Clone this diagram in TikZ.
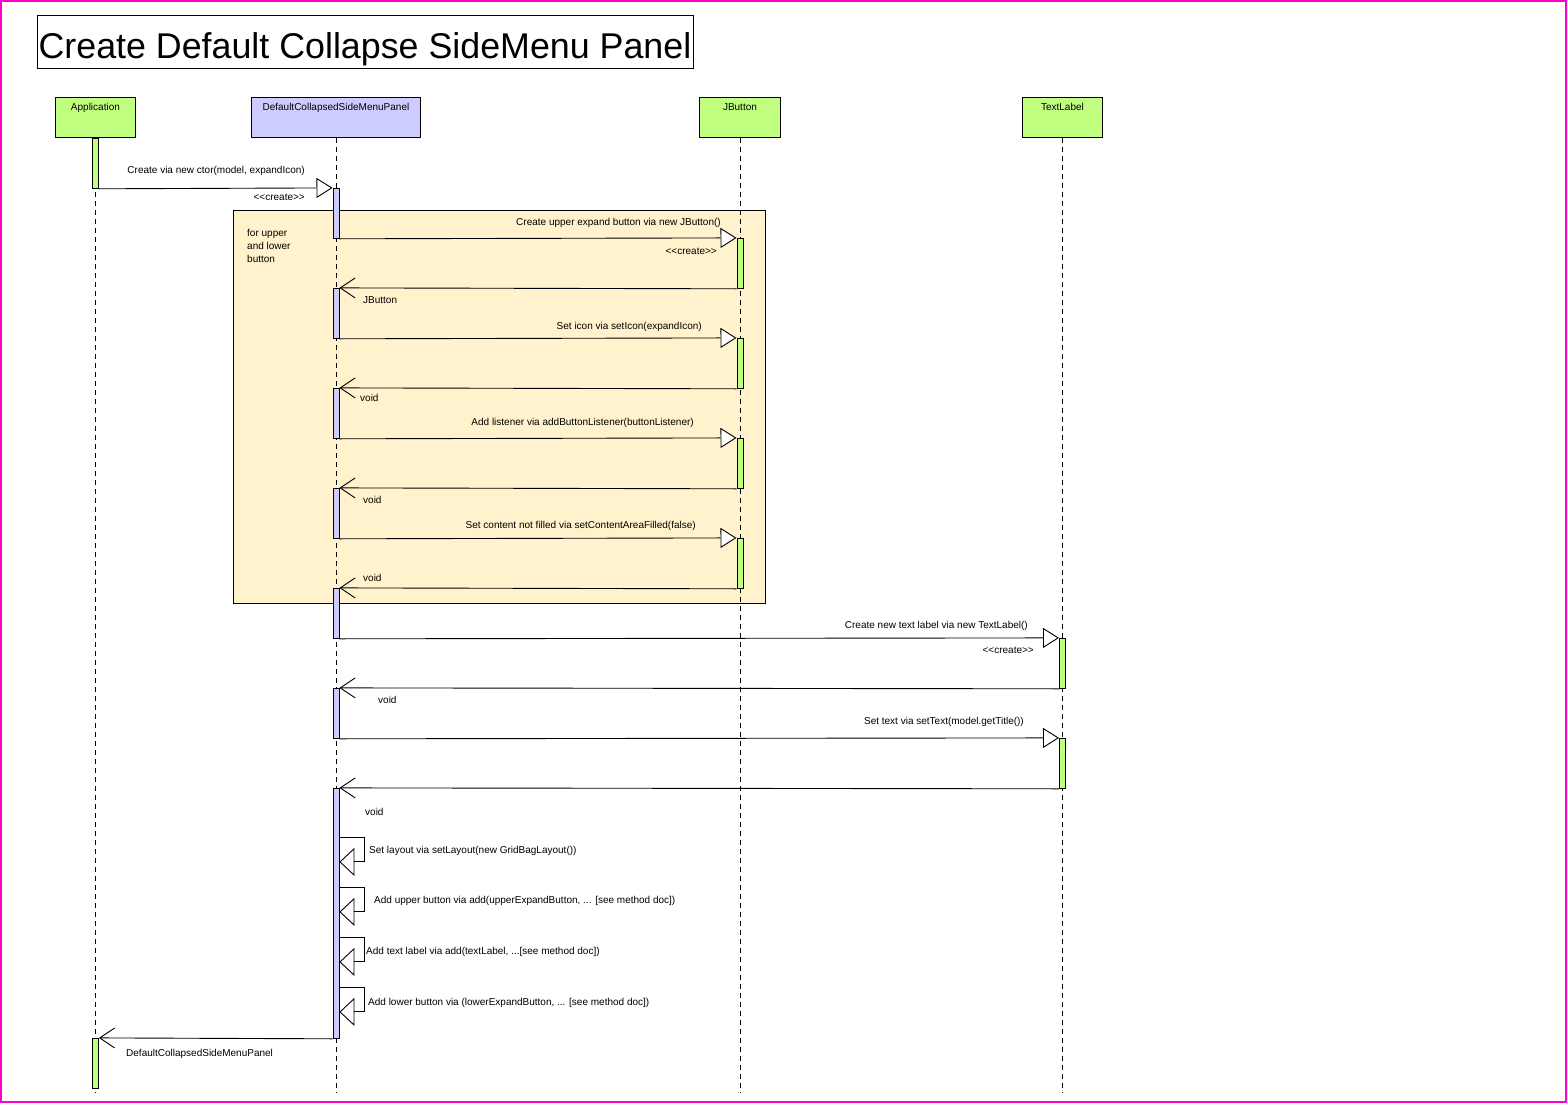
\documentclass[tikz,border=0pt]{standalone}
\usepackage{fontspec}
\setmainfont{Liberation Sans}
\usetikzlibrary{arrows.meta,calc}
\definecolor{lgreen}{RGB}{192,255,128}
\definecolor{lblue}{RGB}{204,204,255}
\definecolor{fragbeige}{RGB}{255,242,204}
\definecolor{bordermag}{RGB}{255,0,204}
\begin{document}
\begin{tikzpicture}[x=1pt,y=-1pt,
  lbl/.style={font=\fontsize{10}{12}\selectfont, inner sep=0pt},
  headbox/.style={draw, line width=0.9pt, minimum height=40pt, inner sep=0pt, anchor=north west},
  headlbl/.style={lbl, anchor=north, yshift=-6.5pt},
  lifeline/.style={draw, line width=0.9pt, dash pattern=on 5pt off 4pt},
  actbar/.style={draw, line width=0.9pt, minimum width=6pt, inner sep=0pt, anchor=north},
  callmsg/.style={draw, line width=0.9pt, -{Triangle[length=16pt,width=20pt,fill=white]}},
  selfmsg/.style={draw, line width=0.9pt, -{Triangle[length=15pt,width=28pt,fill=white]}},
  retmsg/.style={draw, line width=0.9pt, -{Straight Barb[length=15pt,width=20pt]}},
]
\useasboundingbox (0,0) rectangle (1567,1103);
\draw[bordermag, line width=1.6pt] (1,1) rectangle (1566,1102);

% title
\node[draw, line width=0.9pt, minimum width=656pt, minimum height=53pt, inner sep=0pt, anchor=north west] (titlebox) at (37,15) {};
\node[font=\fontsize{35.8}{40}\selectfont, inner sep=0pt, anchor=base] (titletext) at (365,58) {Create Default Collapse SideMenu Panel};

% combined fragment
\node[draw, fill=fragbeige, line width=0.9pt, minimum width=532pt, minimum height=393pt, anchor=north west, inner sep=0pt] (frag) at (233,210) {};
\node[lbl, align=left, anchor=north west, font=\fontsize{10}{13}\selectfont] (fraglbl) at (247,229) {for upper\\and lower\\button};

% heads
\node[headbox, fill=lgreen, minimum width=80pt, label={[headlbl]north:Application}] (app) at (55,97) {};
\node[headbox, fill=lblue, minimum width=169pt, label={[headlbl]north:DefaultCollapsedSideMenuPanel}] (dcs) at (251,97) {};
\node[headbox, fill=lgreen, minimum width=81pt, label={[headlbl]north:JButton}] (jb) at (699,97) {};
\node[headbox, fill=lgreen, minimum width=80pt, label={[headlbl]north:TextLabel}] (tl) at (1022,97) {};

% lifelines
\coordinate (appEnd) at ($(app.south)+(0,955)$);
\coordinate (dcsEnd) at ($(dcs.south)+(0,955)$);
\coordinate (jbEnd) at ($(jb.south)+(0,955)$);
\coordinate (tlEnd) at ($(tl.south)+(0,955)$);
\draw[lifeline] (app.south) -- (appEnd);
\draw[lifeline] (dcs.south) -- (dcsEnd);
\draw[lifeline] (jb.south) -- (jbEnd);
\draw[lifeline] (tl.south) -- (tlEnd);

% activation bars
\node[actbar, fill=lgreen, minimum height=50pt] (a1) at (app.south) {};
\node[actbar, fill=lgreen, minimum height=50pt] (a2) at ($(app.south)+(0,900)$) {};
\node[actbar, fill=lblue, minimum height=50pt] (b1) at ($(dcs.south)+(0,50)$) {};
\node[actbar, fill=lblue, minimum height=50pt] (b2) at ($(dcs.south)+(0,150)$) {};
\node[actbar, fill=lblue, minimum height=50pt] (b3) at ($(dcs.south)+(0,250)$) {};
\node[actbar, fill=lblue, minimum height=50pt] (b4) at ($(dcs.south)+(0,350)$) {};
\node[actbar, fill=lblue, minimum height=50pt] (b5) at ($(dcs.south)+(0,450)$) {};
\node[actbar, fill=lblue, minimum height=50pt] (b6) at ($(dcs.south)+(0,550)$) {};
\node[actbar, fill=lblue, minimum height=250pt] (b7) at ($(dcs.south)+(0,650)$) {};
\node[actbar, fill=lgreen, minimum height=50pt] (j1) at ($(jb.south)+(0,100)$) {};
\node[actbar, fill=lgreen, minimum height=50pt] (j2) at ($(jb.south)+(0,200)$) {};
\node[actbar, fill=lgreen, minimum height=50pt] (j3) at ($(jb.south)+(0,300)$) {};
\node[actbar, fill=lgreen, minimum height=50pt] (j4) at ($(jb.south)+(0,400)$) {};
\node[actbar, fill=lgreen, minimum height=50pt] (t1) at ($(tl.south)+(0,500)$) {};
\node[actbar, fill=lgreen, minimum height=50pt] (t2) at ($(tl.south)+(0,600)$) {};

% messages
\draw[callmsg] (a1.south east) -- (b1.north west);
\draw[callmsg] (b1.south east) -- (j1.north west);
\draw[retmsg] (j1.south west) -- (b2.north east);
\draw[callmsg] (b2.south east) -- (j2.north west);
\draw[retmsg] (j2.south west) -- (b3.north east);
\draw[callmsg] (b3.south east) -- (j3.north west);
\draw[retmsg] (j3.south west) -- (b4.north east);
\draw[callmsg] (b4.south east) -- (j4.north west);
\draw[retmsg] (j4.south west) -- (b5.north east);
\draw[callmsg] (b5.south east) -- (t1.north west);
\draw[retmsg] (t1.south west) -- (b6.north east);
\draw[callmsg] (b6.south east) -- (t2.north west);
\draw[retmsg] (t2.south west) -- (b7.north east);
\foreach \k in {50,100,150,200}
  \draw[selfmsg] ($(b7.north east)+(0,\k)$) -- ++(25,0) -- ++(0,24) -- ++(-25,0);
\draw[retmsg] (b7.south west) -- (a2.north east);

% labels
\node[lbl, anchor=base east] (l1) at (305,173) {Create via new ctor(model, expandIcon)};
\node[lbl, anchor=base east] (c1) at (305,200) {<\kern0pt<create>\kern0pt>};
\node[lbl, anchor=base east] (l2) at (721,225) {Create upper expand button via new JButton()};
\node[lbl, anchor=base east] (c2) at (717,254) {<\kern0pt<create>\kern0pt>};
\node[lbl, anchor=base west] (r1) at (363,303) {JButton};
\node[lbl, anchor=base east] (l4) at (702,329) {Set icon via setIcon(expandIcon)};
\node[lbl, anchor=base west] (r2) at (360,401) {void};
\node[lbl, anchor=base east] (l6) at (694,425) {Add listener via addButtonListener(buttonListener)};
\node[lbl, anchor=base west] (r3) at (363,503) {void};
\node[lbl, anchor=base east] (l8) at (696,528) {Set content not filled via setContentAreaFilled(false)};
\node[lbl, anchor=base west] (r4) at (363,581) {void};
\node[lbl, anchor=base east] (l10) at (1028,628) {Create new text label via new TextLabel()};
\node[lbl, anchor=base east] (c3) at (1034,653) {<\kern0pt<create>\kern0pt>};
\node[lbl, anchor=base west] (r5) at (378,703) {void};
\node[lbl, anchor=base east] (l12) at (1024,724) {Set text via setText(model.getTitle())};
\node[lbl, anchor=base west] (r6) at (365,815) {void};
\node[lbl, anchor=base west] (s1) at (369,853) {Set layout via setLayout(new GridBagLayout())};
\node[lbl, anchor=base west] (s2) at (374,903) {Add upper button via add(upperExpandButton, ... [see method doc])};
\node[lbl, anchor=base west] (s3) at (366,954) {Add text label via add(textLabel, ...[see method doc])};
\node[lbl, anchor=base west] (s4) at (368,1005) {Add lower button via (lowerExpandButton, ... [see method doc])};
\node[lbl, anchor=base west] (r7) at (126,1056) {DefaultCollapsedSideMenuPanel};
\end{tikzpicture}
\end{document}
